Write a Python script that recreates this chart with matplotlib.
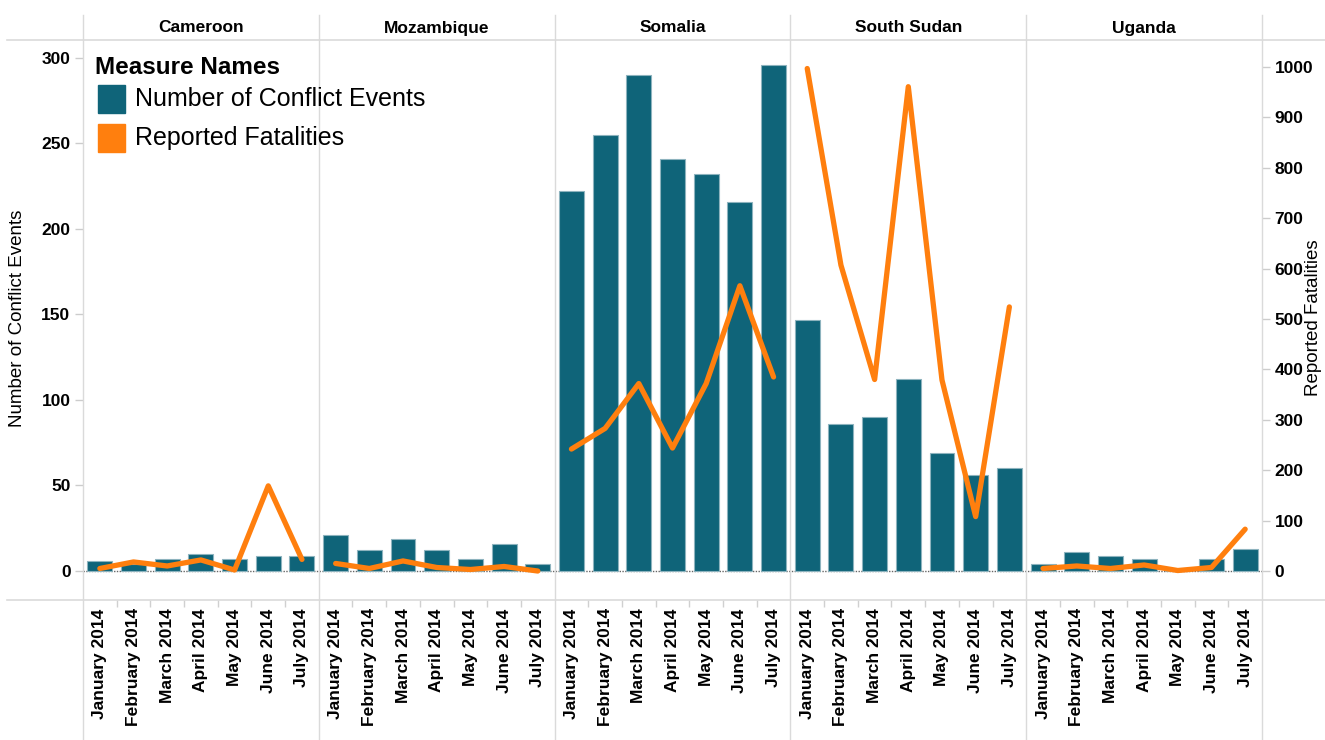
import matplotlib
matplotlib.use("Agg")
import matplotlib.pyplot as plt
from matplotlib.lines import Line2D
from matplotlib.patches import Rectangle
from matplotlib.transforms import blended_transform_factory

plt.rcParams["font.family"] = ["Liberation Sans", "DejaVu Sans"]

countries = ["Cameroon", "Mozambique", "Somalia", "South Sudan", "Uganda"]
months = ["January 2014", "February 2014", "March 2014", "April 2014",
          "May 2014", "June 2014", "July 2014"]

events_cameroon = [6, 4, 7, 10, 7, 9, 9]
events_mozambique = [21, 12, 19, 12, 7, 16, 4]
events_somalia = [222, 255, 290, 241, 232, 216, 296]
events_south_sudan = [147, 86, 90, 112, 69, 56, 60]
events_uganda = [4, 11, 9, 7, 0, 7, 13]

fatal_cameroon = [5, 18, 10, 22, 2, 169, 23]
fatal_mozambique = [15, 5, 20, 7, 3, 9, 0]
fatal_somalia = [242, 283, 372, 244, 372, 566, 385]
fatal_south_sudan = [997, 607, 380, 961, 379, 108, 524]
fatal_uganda = [5, 10, 5, 12, 1, 7, 83]

events = [events_cameroon, events_mozambique, events_somalia,
          events_south_sudan, events_uganda]
fatal = [fatal_cameroon, fatal_mozambique, fatal_somalia,
         fatal_south_sudan, fatal_uganda]

TEAL = "#0F6479"
ORANGE = "#FF7F0E"
GRID = "#DADADA"

W, H = 1325, 740
fig = plt.figure(figsize=(W / 100, H / 100), dpi=100)


def fx(x):
    return x / W


def fy(y):
    return 1 - y / H


left_px, right_px, top_px, bot_px = 83, 1262, 40, 600
ax = fig.add_axes([fx(left_px), fy(bot_px), fx(right_px) - fx(left_px),
                   fy(top_px) - fy(bot_px)])
ax2 = ax.twinx()

n = len(months)
for p, c in enumerate(countries):
    xs = [p * n + m for m in range(n)]
    ax.bar(xs, events[p], width=0.74, color=TEAL, edgecolor="#8DB3BE",
           linewidth=0.8, zorder=2)
    ax2.plot(xs, fatal[p], color=ORANGE, lw=3.8, solid_capstyle="round",
             solid_joinstyle="round", zorder=3)

ax.set_xlim(-0.5, len(countries) * n - 0.5)
ax.set_ylim(-16.96, 310.5)
ax2.set_ylim(-57.5, 1053.6)

ax.axhline(0, color="#666666", lw=1.0, ls=(0, (1, 1)), zorder=1)

for a in (ax, ax2):
    for s in a.spines.values():
        s.set_visible(False)
    a.patch.set_visible(False)

ax.set_yticks(range(0, 301, 50))
ax2.set_yticks(range(0, 1001, 100))
ax.tick_params(axis="y", length=6, width=1, color="#CCCCCC", pad=3,
               labelsize=12.5)
ax2.tick_params(axis="y", length=6, width=1, color="#CCCCCC", pad=3,
                labelsize=12.5)
for lab in ax.get_yticklabels() + ax2.get_yticklabels():
    lab.set_fontweight("bold")

xt = [p * n + m for p in range(len(countries)) for m in range(n)]
ax.set_xticks(xt)
ax.set_xticklabels(months * len(countries), rotation=90, fontsize=12.5,
                   fontweight="bold")
ax.tick_params(axis="x", which="major", length=0, pad=6)
minor = [p * n + m + 0.5 for p in range(len(countries)) for m in range(n - 1)]
ax.set_xticks(minor, minor=True)
ax.tick_params(axis="x", which="minor", length=5, width=1, color="#D0D0D0")

# frame / separator lines
bt = blended_transform_factory(ax.transData, fig.transFigure)
for p in range(len(countries) + 1):
    xv = p * n - 0.5
    fig.add_artist(Line2D([xv, xv], [0, fy(15)], transform=bt, color=GRID,
                          lw=1))
for yv in (top_px, bot_px):
    fig.add_artist(Line2D([fx(7), 1], [fy(yv), fy(yv)], color=GRID, lw=1.2))

# panel headers
for p, c in enumerate(countries):
    fig.text(p * n + (n - 1) / 2, fy(28), c, transform=bt, ha="center",
             va="center", fontsize=12.5, fontweight="bold")

# axis titles
fig.text(fx(18), fy(318), "Number of Conflict Events", rotation=90,
         ha="center", va="center", fontsize=13.5)
fig.text(fx(1305), fy(318), "Reported Fatalities", rotation=90,
         ha="left", va="center", fontsize=13.5)

# legend
fig.text(fx(95), fy(68), "Measure Names", ha="left", va="center",
         fontsize=17.5, fontweight="bold")
fig.add_artist(Rectangle((fx(98), fy(113)), fx(27), 28 / H,
                         transform=fig.transFigure, color=TEAL))
fig.add_artist(Rectangle((fx(98), fy(152)), fx(27), 28 / H,
                         transform=fig.transFigure, color=ORANGE))
fig.text(fx(135), fy(99), "Number of Conflict Events", ha="left",
         va="center", fontsize=18)
fig.text(fx(135), fy(138), "Reported Fatalities", ha="left",
         va="center", fontsize=18)

fig.savefig("out.png", dpi=100)
